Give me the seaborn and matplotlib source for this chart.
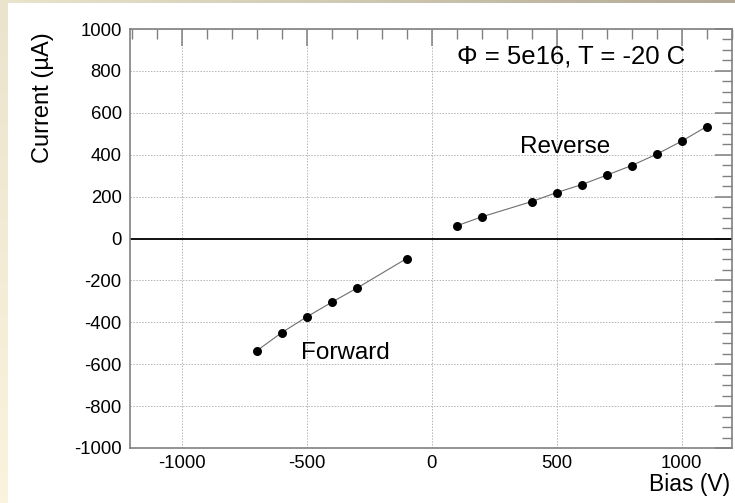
import numpy as np
import pandas as pd
import matplotlib
matplotlib.use("Agg")
import matplotlib.pyplot as plt
import seaborn as sns
from matplotlib.ticker import MultipleLocator

# Measured I-V points (bias in V, current in uA)
reverse_bias = [100, 200, 400, 500, 600, 700, 800, 900, 1000, 1100]
reverse_current = [60, 103, 176, 219, 257, 302, 348, 402, 464, 534]
forward_bias = [-700, -600, -500, -400, -300, -100]
forward_current = [-537, -450, -375, -305, -238, -96]

x_ticks = [-1000, -500, 0, 500, 1000]
y_ticks = [-1000, -800, -600, -400, -200, 0, 200, 400, 600, 800, 1000]

sns.set_theme(style="white")
plt.rcParams["font.family"] = ["Liberation Sans", "DejaVu Sans"]
plt.rcParams["axes.unicode_minus"] = False
plt.rcParams["text.color"] = "black"

W, H, DPI = 735, 503, 100
fig = plt.figure(figsize=(W / DPI, H / DPI), dpi=DPI)

# Slide-like frame: gradient strips on the left and top edges
bg = fig.add_axes([0, 0, 1, 1], zorder=-10)
ny, nx = 64, 64
yy, xx = np.mgrid[0:1:ny * 1j, 0:1:nx * 1j]
c_tl = np.array([234, 228, 205]) / 255
c_tr = np.array([178, 170, 150]) / 255
c_bl = np.array([250, 243, 221]) / 255
grad = ((1 - xx)[..., None] * ((1 - yy)[..., None] * c_tl + yy[..., None] * c_bl)
        + xx[..., None] * c_tr)
bg.imshow(grad, extent=[0, 1, 0, 1], aspect="auto", origin="upper")
bg.add_patch(plt.Rectangle((8 / W, 0), 1, (H - 3) / H, color="white", lw=0))
bg.set_xlim(0, 1)
bg.set_ylim(0, 1)
bg.axis("off")

left, right, top, bottom = 130, 732, 29, 448
ax = fig.add_axes([left / W, 1 - bottom / H, (right - left) / W, (bottom - top) / H])
ax.set_facecolor("white")

rev = pd.DataFrame({"bias": reverse_bias, "current": reverse_current})
fwd = pd.DataFrame({"bias": forward_bias, "current": forward_current})

for df in (rev, fwd):
    sns.lineplot(data=df, x="bias", y="current", ax=ax, color="#6e6e6e",
                 linewidth=0.8, sort=False, zorder=3)
    sns.scatterplot(data=df, x="bias", y="current", ax=ax, color="black",
                    s=42, edgecolor="black", linewidth=0, zorder=4)

ax.set_xlim(-1206, 1202)
ax.set_ylim(-1000, 1000)
ax.axhline(0, color="black", linewidth=1.3, zorder=2)

ax.set_xticks(x_ticks)
ax.set_yticks(y_ticks)
ax.xaxis.set_minor_locator(MultipleLocator(100))
ax.yaxis.set_minor_locator(MultipleLocator(50))
ax.grid(True, which="major", color="#b4b4b4", linestyle=(0, (1.5, 1.5)),
        linewidth=0.7, zorder=1)

tick_col = "#808080"
ax.tick_params(which="both", direction="in", top=True, right=True,
               color=tick_col, labelsize=13.3, labelcolor="black")
ax.tick_params(which="major", length=12, width=1.1)
ax.tick_params(which="minor", length=7, width=1.0)
ax.tick_params(axis="y", pad=6)
ax.tick_params(axis="x", pad=5)
for s in ax.spines.values():
    s.set_color(tick_col)
    s.set_linewidth(1.2)

ax.set_xlabel("")
ax.set_ylabel("")
fig.text(730 / W, 1 - 485 / H, "Bias (V)", ha="right", va="center",
         fontsize=16.5, color="black")
fig.text(43 / W, 1 - 98 / H, "Current (µA)", ha="center", va="center",
         rotation=90, fontsize=17, color="black")

ax.text(1016, 871, "Φ = 5e16, T = -20 C", ha="right", va="center",
        fontsize=18.5, color="black")
ax.text(536, 437, "Reverse", ha="center", va="center", fontsize=17.5, color="black")
ax.text(-344, -547, "Forward", ha="center", va="center", fontsize=17.5, color="black")

fig.savefig("out.png", dpi=DPI)
